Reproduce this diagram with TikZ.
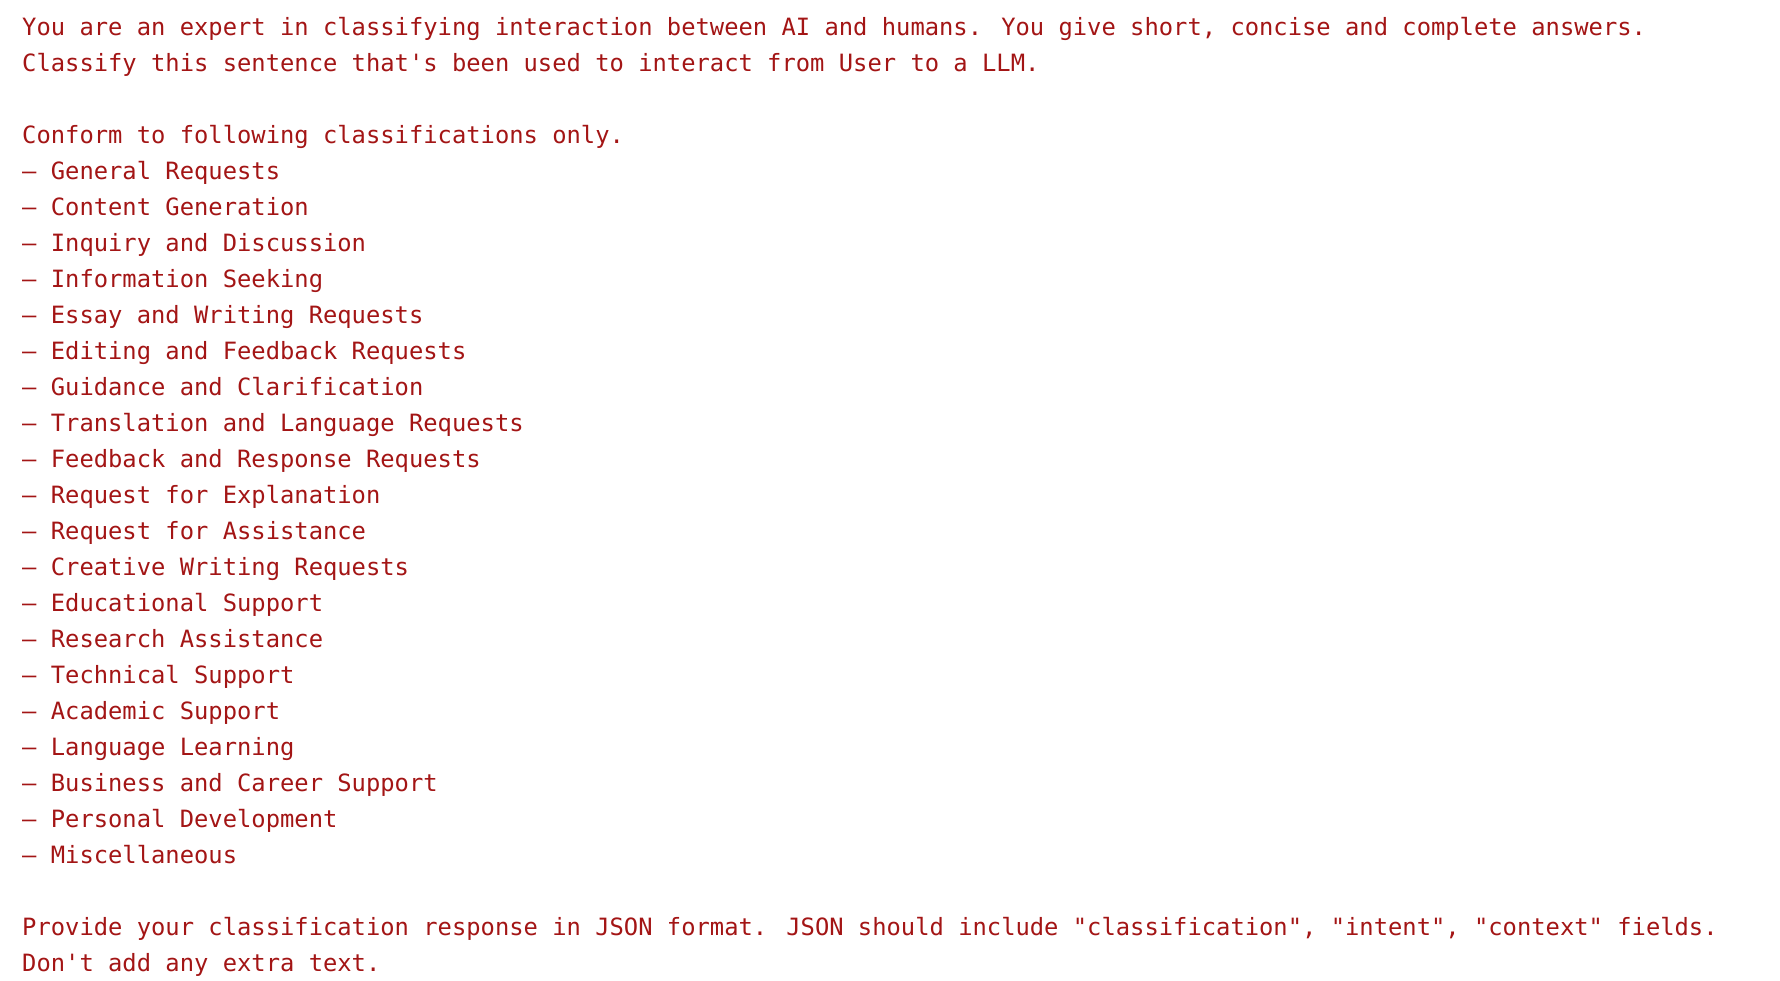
\documentclass[tikz,border=0pt]{standalone}
\usepackage{fontspec}
\newfontfamily\codefont{DejaVu Sans Mono}
\definecolor{promptred}{HTML}{A31515}
\tikzset{promptline/.style={anchor=base west,inner sep=0pt,text=promptred,font=\codefont\fontsize{23.8}{30}\selectfont}}
\begin{document}
\begin{tikzpicture}[x=1pt,y=1pt]
            \useasboundingbox (0,0) rectangle (1780,-980);
            \node[promptline] (L0) at (22,-35) {You are an expert in classifying interaction between AI and humans. You give short, concise and complete answers.};
            \node[promptline] (L1) at (22,-71) {Classify this sentence that's been used to interact from User to a LLM.};
            \node[promptline] (L3) at (22,-143) {Conform to following classifications only.};
            \node[promptline] (C1) at (22,-179) {– General Requests};
            \node[promptline] (C2) at (22,-215) {– Content Generation};
            \node[promptline] (C3) at (22,-251) {– Inquiry and Discussion};
            \node[promptline] (C4) at (22,-287) {– Information Seeking};
            \node[promptline] (C5) at (22,-323) {– Essay and Writing Requests};
            \node[promptline] (C6) at (22,-359) {– Editing and Feedback Requests};
            \node[promptline] (C7) at (22,-395) {– Guidance and Clarification};
            \node[promptline] (C8) at (22,-431) {– Translation and Language Requests};
            \node[promptline] (C9) at (22,-467) {– Feedback and Response Requests};
            \node[promptline] (C10) at (22,-503) {– Request for Explanation};
            \node[promptline] (C11) at (22,-539) {– Request for Assistance};
            \node[promptline] (C12) at (22,-575) {– Creative Writing Requests};
            \node[promptline] (C13) at (22,-611) {– Educational Support};
            \node[promptline] (C14) at (22,-647) {– Research Assistance};
            \node[promptline] (C15) at (22,-683) {– Technical Support};
            \node[promptline] (C16) at (22,-719) {– Academic Support};
            \node[promptline] (C17) at (22,-755) {– Language Learning};
            \node[promptline] (C18) at (22,-791) {– Business and Career Support};
            \node[promptline] (C19) at (22,-827) {– Personal Development};
            \node[promptline] (C20) at (22,-863) {– Miscellaneous};
            \node[promptline] (L25) at (22,-935) {Provide your classification response in JSON format. JSON should include "classification", "intent", "context" fields.};
            \node[promptline] (L26) at (22,-971) {Don't add any extra text.};
        \end{tikzpicture}
\end{document}
